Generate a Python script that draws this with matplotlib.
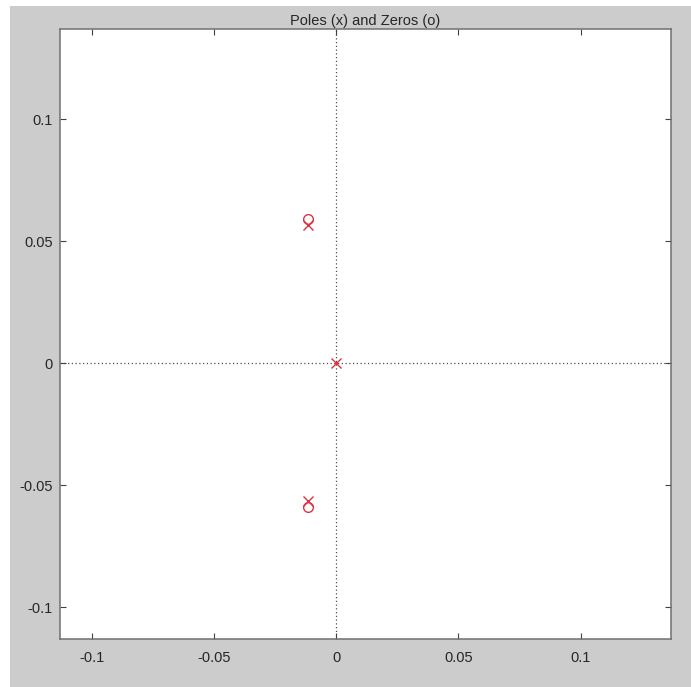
import matplotlib
matplotlib.use('Agg')
import matplotlib.pyplot as plt
from matplotlib.patches import Rectangle

# Pole / zero locations
zeros_re = [-0.0115, -0.0115]
zeros_im = [0.059, -0.059]
poles_re = [-0.0115, -0.0115, 0.0]
poles_im = [0.0565, -0.0565, 0.0]

ticks = [-0.1, -0.05, 0, 0.05, 0.1]
tick_labels = ['-0.1', '-0.05', '0', '0.05', '0.1']
xlim = (-0.113, 0.137)
ylim = (-0.113, 0.137)

plt.rcParams['font.family'] = ['Liberation Sans', 'DejaVu Sans']

W, H = 691, 687
fig = plt.figure(figsize=(W / 100, H / 100), dpi=100)
fig.patch.set_facecolor('white')
# grey MATLAB-style figure area, small white margin left and top
fig.add_artist(Rectangle((10 / W, 0), 1 - 10 / W, (H - 6) / H,
                         transform=fig.transFigure, facecolor='#cccccc',
                         edgecolor='none', zorder=-5))

ax = fig.add_axes([60 / W, (H - 639) / H, (671 - 60) / W, (639 - 29) / H])
ax.set_facecolor('white')

ax.axhline(0, color='#505050', linestyle=(0, (1, 2)), linewidth=0.9, zorder=1)
ax.axvline(0, color='#505050', linestyle=(0, (1, 2)), linewidth=0.9, zorder=1)

red = '#dd3340'
ax.plot(zeros_re, zeros_im, linestyle='none', marker='o', markersize=7,
        markerfacecolor='none', markeredgecolor=red, markeredgewidth=1.0)
ax.plot(poles_re, poles_im, linestyle='none', marker='x', markersize=7,
        markeredgecolor=red, markeredgewidth=1.0)

ax.set_xlim(*xlim)
ax.set_ylim(*ylim)
ax.set_xticks(ticks)
ax.set_xticklabels(tick_labels)
ax.set_yticks(ticks)
ax.set_yticklabels(tick_labels)

ax.tick_params(direction='in', length=4.5, width=0.8, color='#404040',
               top=True, right=True, labelsize=10.5, labelcolor='#262626')
ax.tick_params(axis='x', pad=8.5)
ax.tick_params(axis='y', pad=5)
for s in ax.spines.values():
  s.set_color('#707070')
  s.set_linewidth(1.1)

ax.set_title('Poles (x) and Zeros (o)', fontsize=10.5, color='#262626', pad=3)

fig.savefig('out.png', dpi=100)
